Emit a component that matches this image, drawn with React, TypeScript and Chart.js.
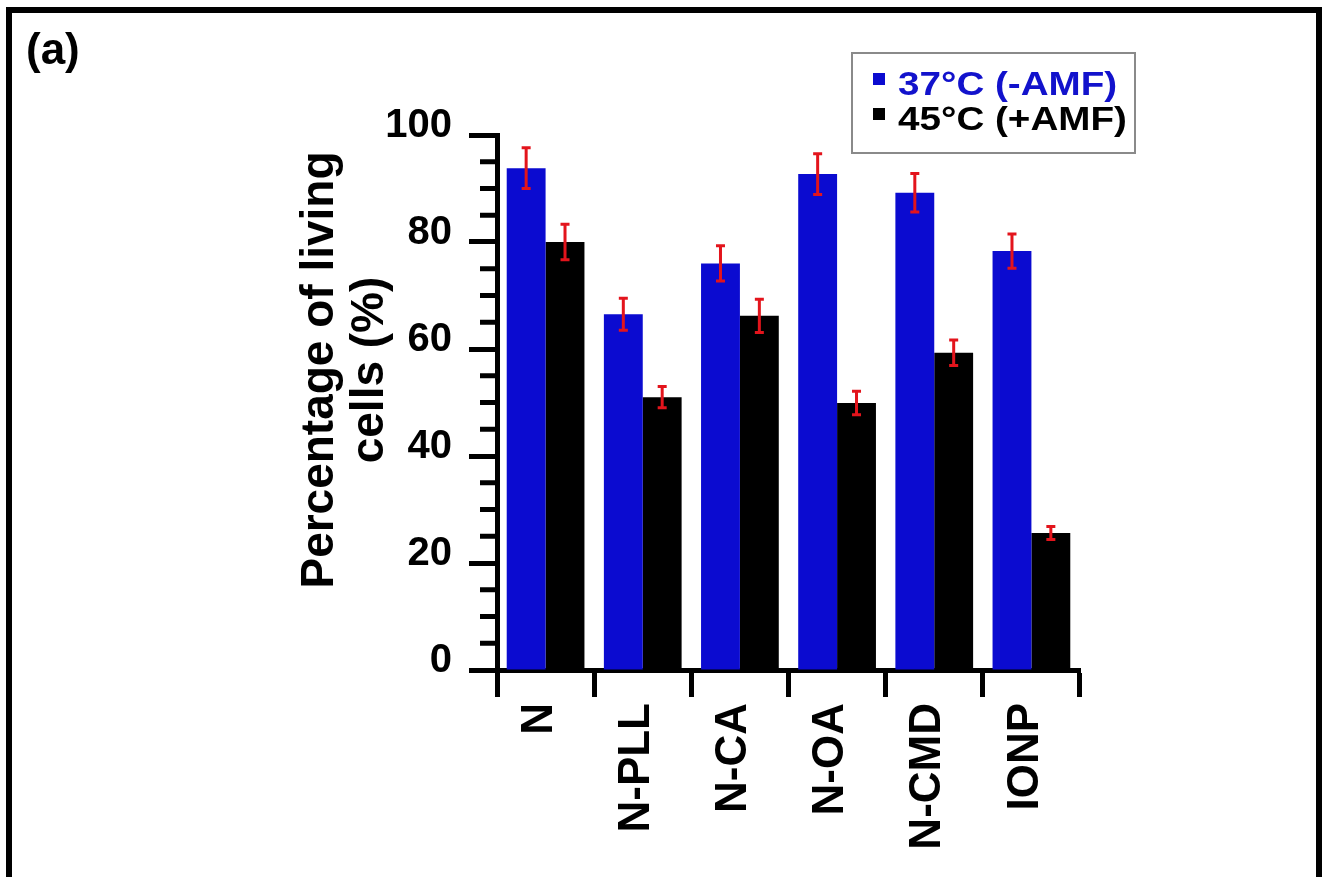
import React, { useEffect, useRef } from "react";
import { Chart, registerables } from "chart.js";

Chart.register(...registerables);

const categories = ["N", "N-PLL", "N-CA", "N-OA", "N-CMD", "IONP"];
const seriesLabels = ["37°C (-AMF)", "45°C (+AMF)"];
const values37 = [93.8, 66.5, 76.0, 92.7, 89.2, 78.3];
const errors37 = [3.8, 3.0, 3.3, 3.8, 3.6, 3.2];
const values45 = [80.0, 51.0, 66.2, 49.9, 59.3, 25.6];
const errors45 = [3.3, 2.0, 3.1, 2.2, 2.4, 1.2];
const yMin = 0;
const yMax = 100;
const yMajorStep = 20;
const yMinorStep = 5;
const panelLabel = "(a)";
const yTitleLines = ["Percentage of living", "cells (%)"];

const FONT = "'Liberation Sans', Arial, Helvetica, sans-serif";
const BLUE = "#0b0bd0";
const BLACK = "#000000";
const RED = "#e3141c";

const errorBarPlugin = {
  id: "errorBars",
  afterDatasetsDraw(chart: any) {
    const ctx = chart.ctx;
    const y = chart.scales.y;
    ctx.save();
    ctx.strokeStyle = RED;
    ctx.lineWidth = 3;
    chart.data.datasets.forEach((ds: any, i: number) => {
      const meta = chart.getDatasetMeta(i);
      meta.data.forEach((bar: any, j: number) => {
        const v = ds.data[j];
        const e = ds.errors[j];
        const yt = y.getPixelForValue(v + e);
        const yb = y.getPixelForValue(v - e);
        const x = bar.x;
        ctx.beginPath();
        ctx.moveTo(x, yt);
        ctx.lineTo(x, yb);
        ctx.moveTo(x - 4.5, yt);
        ctx.lineTo(x + 4.5, yt);
        ctx.moveTo(x - 4.5, yb);
        ctx.lineTo(x + 4.5, yb);
        ctx.stroke();
      });
    });
    ctx.restore();
  },
};

const decorPlugin = {
  id: "decor",
  afterDraw(chart: any) {
    const ctx = chart.ctx;
    const y = chart.scales.y;
    const area = chart.chartArea;
    ctx.save();

    // outer frame (open at bottom)
    ctx.fillStyle = "#000";
    ctx.fillRect(6, 7, 1316, 6);
    ctx.fillRect(6, 7, 6, 870);
    ctx.fillRect(1316, 7, 6, 870);

    // minor ticks on y axis
    ctx.strokeStyle = "#000";
    ctx.lineWidth = 5;
    for (let v = yMin; v <= yMax; v += yMinorStep) {
      if (v % yMajorStep === 0) continue;
      const py = y.getPixelForValue(v);
      ctx.beginPath();
      ctx.moveTo(area.left - 17, py);
      ctx.lineTo(area.left, py);
      ctx.stroke();
    }

    // panel label
    ctx.fillStyle = "#000";
    ctx.font = `bold 44px ${FONT}`;
    ctx.textAlign = "left";
    ctx.textBaseline = "alphabetic";
    ctx.fillText(panelLabel, 26, 64);

    // y-axis title
    ctx.font = `bold 46px ${FONT}`;
    ctx.textAlign = "center";
    yTitleLines.forEach((line, i) => {
      ctx.save();
      ctx.translate(333 + i * 50, 370);
      ctx.rotate(-Math.PI / 2);
      ctx.fillText(line, 0, 0);
      ctx.restore();
    });

    // legend
    ctx.strokeStyle = "#8a8a8a";
    ctx.lineWidth = 2;
    ctx.strokeRect(852, 53, 283, 100);
    const rows = [
      { y: 95, sq: 73 },
      { y: 130, sq: 108 },
    ];
    chart.data.datasets.forEach((ds: any, i: number) => {
      const r = rows[i];
      ctx.fillStyle = ds.backgroundColor;
      ctx.fillRect(873, r.sq, 12, 12);
      ctx.save();
      ctx.translate(898, r.y);
      ctx.scale(1.17, 1);
      ctx.font = `bold 33px ${FONT}`;
      ctx.textAlign = "left";
      ctx.fillStyle = i === 0 ? "#1212cc" : "#000";
      ctx.fillText(ds.label, 0, 0);
      ctx.restore();
    });

    ctx.restore();
  },
};

export default function App() {
  const canvasRef = useRef<HTMLCanvasElement | null>(null);

  useEffect(() => {
    const canvas = canvasRef.current;
    if (!canvas) return;
    const chart = new Chart(canvas, {
      type: "bar",
      data: {
        labels: categories,
        datasets: [
          {
            label: seriesLabels[0],
            data: values37,
            errors: errors37,
            backgroundColor: BLUE,
            borderWidth: 0,
            categoryPercentage: 0.8,
            barPercentage: 1.0,
          } as any,
          {
            label: seriesLabels[1],
            data: values45,
            errors: errors45,
            backgroundColor: BLACK,
            borderWidth: 0,
            categoryPercentage: 0.8,
            barPercentage: 1.0,
          } as any,
        ],
      },
      options: {
        responsive: false,
        animation: false,
        devicePixelRatio: 1,
        layout: { padding: { left: 0, top: 135, right: 242, bottom: 0 } },
        plugins: {
          legend: { display: false },
          tooltip: { enabled: false },
          title: { display: false },
        },
        scales: {
          x: {
            type: "category",
            border: { display: true, color: "#000", width: 5 },
            grid: {
              display: true,
              offset: true,
              drawOnChartArea: false,
              drawTicks: true,
              tickLength: 27,
              tickWidth: 5,
              tickColor: "#000",
            },
            ticks: {
              color: "#000",
              font: { family: FONT, size: 44, weight: "bold" },
              minRotation: 90,
              maxRotation: 90,
              autoSkip: false,
              padding: 6,
              labelOffset: -6,
            },
            afterFit: (s: any) => {
              s.height = 877 - 670;
            },
          },
          y: {
            min: yMin,
            max: yMax,
            border: { display: true, color: "#000", width: 5 },
            grid: {
              display: true,
              drawOnChartArea: false,
              drawTicks: true,
              tickLength: 28,
              tickWidth: 5,
              tickColor: "#000",
            },
            ticks: {
              stepSize: yMajorStep,
              color: "#000",
              font: { family: FONT, size: 40, weight: "bold" },
              padding: 17,
              labelOffset: -9,
            },
            afterFit: (s: any) => {
              s.width = 497;
            },
          },
        },
      } as any,
      plugins: [errorBarPlugin, decorPlugin],
    });
    return () => chart.destroy();
  }, []);

  return (
    <div style={{ position: "absolute", left: 0, top: 0, width: 1322, height: 877, background: "#fff" }}>
      <canvas ref={canvasRef} width={1322} height={877} style={{ display: "block", width: 1322, height: 877 }} />
    </div>
  );
}
